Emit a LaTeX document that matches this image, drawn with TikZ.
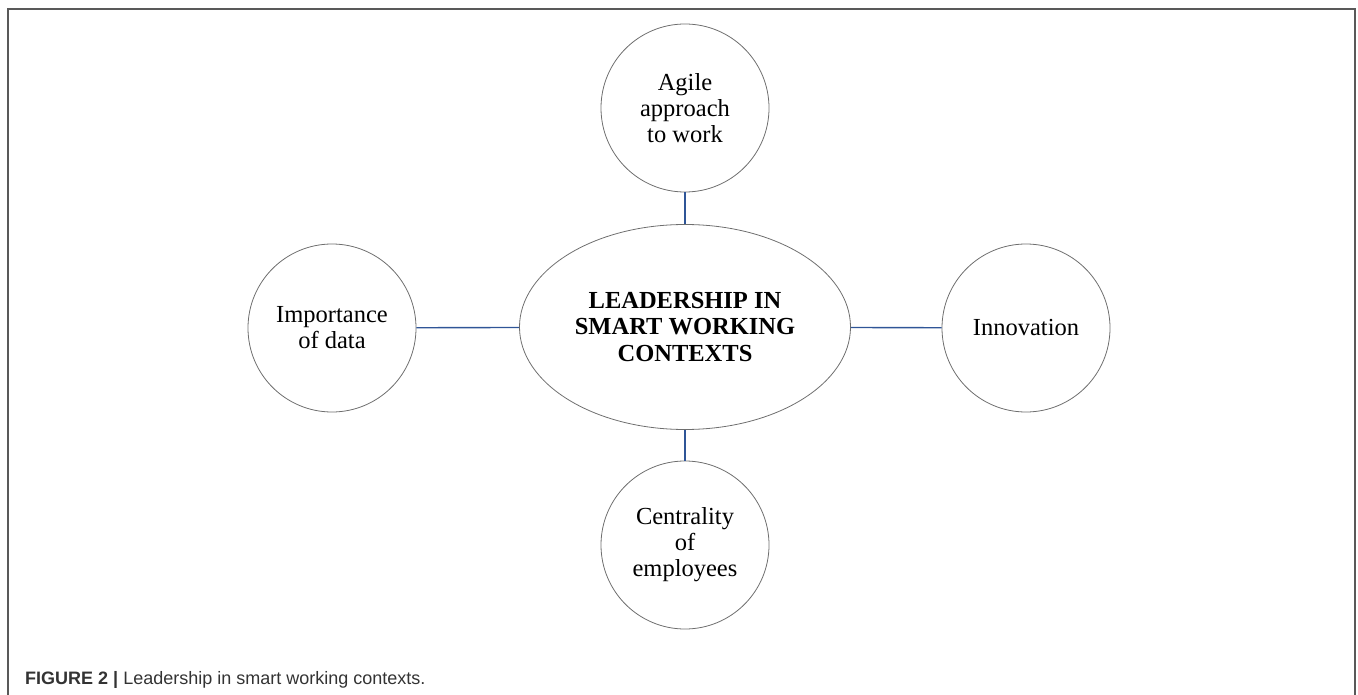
\documentclass[tikz,border=0pt]{standalone}
\usepackage{fontspec}
\setmainfont{Liberation Serif}
\newfontfamily\captionfont{Liberation Sans}
\usetikzlibrary{shapes.geometric}
\definecolor{Linea}{RGB}{47, 85, 151}
\definecolor{Borde}{RGB}{110, 110, 110}

\begin{document}
\begin{tikzpicture}[x=1pt, y=1pt,
        factor/.style={circle, draw=Borde, line width=0.8pt, minimum size=168pt, inner sep=0pt, align=center, font=\fontsize{24.5}{26}\selectfont},
        central/.style={ellipse, draw=Borde, line width=0.8pt, minimum width=331pt, minimum height=205pt, inner sep=0pt, align=center, font=\fontsize{24.5}{26.5}\selectfont\bfseries},
        connect/.style={draw=Linea, line width=1.4pt}
    ]
        \useasboundingbox (0,0) rectangle (1358,-695);
        % Marco abierto por abajo
        \draw[draw=black!65, line width=2pt] (8,-695) -- (8,-9) -- (1355,-9) -- (1355,-695);

        % Elipse central y los cuatro factores
        \node[central] (lead) at (685,-327) {LEADERSHIP IN\\SMART WORKING\\CONTEXTS};
        \node[factor] (agile) at (685,-108) {Agile\\approach\\to work};
        \node[factor] (data) at (332,-328) {Importance\\of data};
        \node[factor] (innov) at (1026,-328) {Innovation};
        \node[factor] (emp) at (685,-545) {Centrality\\of\\employees};

        % Conexiones
        \draw[connect] (agile) -- (lead);
        \draw[connect] (data) -- (lead);
        \draw[connect] (innov) -- (lead);
        \draw[connect] (emp) -- (lead);

        % Pie de figura
        \node[anchor=base west, inner sep=0pt, text=black!80, font=\captionfont\fontsize{18}{20}\selectfont] (pie) at (25,-684) {\textbf{FIGURE 2 |} Leadership in smart working contexts.};
    \end{tikzpicture}
\end{document}
